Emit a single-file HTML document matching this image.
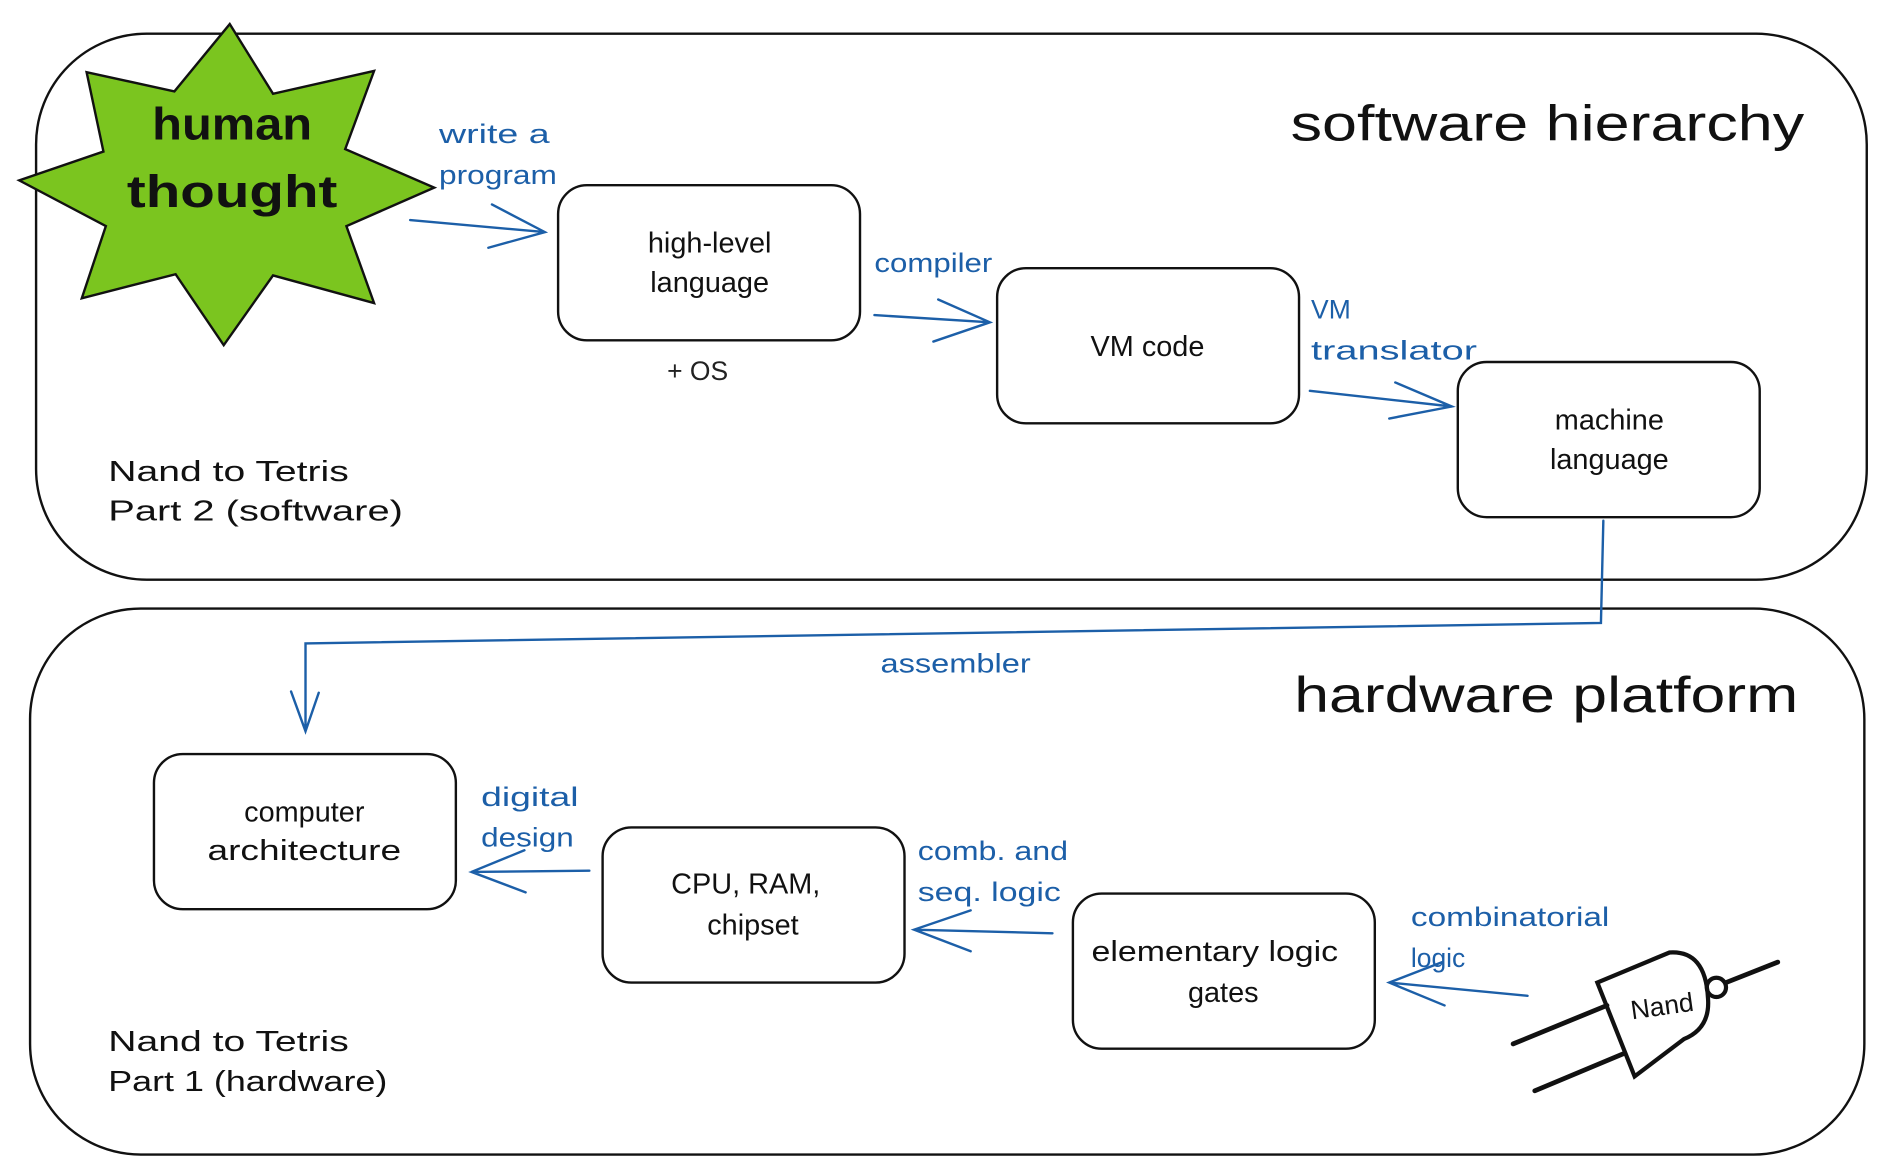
<!DOCTYPE html>
<html><head><meta charset="utf-8"><style>
html,body{margin:0;padding:0;background:#fff;}
svg{display:block;}
text{font-family:"Liberation Sans","DejaVu Sans",sans-serif;}
.b{fill:#1c5fa8;font-size:22px;}
.k{fill:#111;font-size:24px;text-anchor:middle;}
.bx{fill:none;stroke:#111;stroke-width:2;}
.ar{fill:none;stroke:#1c5fa8;stroke-width:2;stroke-linecap:round;}
</style></head><body>
<svg width="1886" height="1175" viewBox="0 0 1568 977" preserveAspectRatio="none" xmlns="http://www.w3.org/2000/svg">
<rect width="1568" height="977" fill="#fff"/>
<rect x="30" y="28" width="1522" height="454" rx="92" class="bx" stroke-width="2.2"/>
<rect x="25" y="506" width="1525" height="454" rx="92" class="bx" stroke-width="2.2"/>
<polygon points="191,20 227,78 311,59 287,124 361,156 288,188 311,252 227,229 186,287 146,228 68,248 88,188 16,150 86,126 72,60 145,76" fill="#7bc51f" stroke="#111" stroke-width="2"/>
<text x="193" y="116" text-anchor="middle" font-size="38" font-weight="bold" fill="#111" textLength="133" lengthAdjust="spacingAndGlyphs">human</text>
<text x="193" y="172" text-anchor="middle" font-size="38" font-weight="bold" fill="#111" textLength="175" lengthAdjust="spacingAndGlyphs">thought</text>
<text x="1073" y="117" font-size="42" fill="#111" textLength="427" lengthAdjust="spacingAndGlyphs">software hierarchy</text>
<text x="1076" y="592" font-size="42" fill="#111" textLength="419" lengthAdjust="spacingAndGlyphs">hardware platform</text>
<text x="90" y="400" font-size="24" fill="#111" textLength="200" lengthAdjust="spacingAndGlyphs">Nand to Tetris</text>
<text x="90" y="433" font-size="24" fill="#111" textLength="245" lengthAdjust="spacingAndGlyphs">Part 2 (software)</text>
<text x="90" y="874" font-size="24" fill="#111" textLength="200" lengthAdjust="spacingAndGlyphs">Nand to Tetris</text>
<text x="90" y="907" font-size="24" fill="#111" textLength="232" lengthAdjust="spacingAndGlyphs">Part 1 (hardware)</text>
<rect x="464" y="154" width="251" height="129" rx="24" class="bx"/>
<text class="k" x="590" y="210">high-level</text><text class="k" x="590" y="243">language</text>
<text x="580" y="316" text-anchor="middle" font-size="22" fill="#222">+ OS</text>
<rect x="829" y="223" width="251" height="129" rx="24" class="bx"/>
<text class="k" x="954" y="296">VM code</text>
<rect x="1212" y="301" width="251" height="129" rx="24" class="bx"/>
<text class="k" x="1338" y="357">machine</text><text class="k" x="1338" y="390">language</text>
<rect x="128" y="627" width="251" height="129" rx="24" class="bx"/>
<text class="k" x="253" y="683">computer</text><text class="k" x="253" y="715" textLength="161" lengthAdjust="spacingAndGlyphs">architecture</text>
<rect x="501" y="688" width="251" height="129" rx="24" class="bx"/>
<text class="k" x="620" y="743">CPU, RAM,</text><text class="k" x="626" y="777">chipset</text>
<rect x="892" y="743" width="251" height="129" rx="24" class="bx"/>
<text class="k" x="1010" y="799" textLength="205" lengthAdjust="spacingAndGlyphs">elementary logic</text><text class="k" x="1017" y="833">gates</text>
<text class="b" x="365" y="119" textLength="92" lengthAdjust="spacingAndGlyphs">write a</text><text class="b" x="365" y="153" textLength="98" lengthAdjust="spacingAndGlyphs">program</text>
<text class="b" x="727" y="226" textLength="98" lengthAdjust="spacingAndGlyphs">compiler</text>
<text class="b" x="1090" y="265">VM</text><text class="b" x="1090" y="299" textLength="138" lengthAdjust="spacingAndGlyphs">translator</text>
<text class="b" x="732" y="559" textLength="125" lengthAdjust="spacingAndGlyphs">assembler</text>
<text class="b" x="400" y="670" textLength="81" lengthAdjust="spacingAndGlyphs">digital</text><text class="b" x="400" y="704" textLength="77" lengthAdjust="spacingAndGlyphs">design</text>
<text class="b" x="763" y="715" textLength="125" lengthAdjust="spacingAndGlyphs">comb. and</text><text class="b" x="763" y="749" textLength="119" lengthAdjust="spacingAndGlyphs">seq. logic</text>
<text class="b" x="1173" y="770" textLength="165" lengthAdjust="spacingAndGlyphs">combinatorial</text><text class="b" x="1173" y="804">logic</text>
<path class="ar" d="M341,183 L453,193 M409,170 L453,193 L406,206"/>
<path class="ar" d="M727,262 L823,268 M780,249 L823,268 L776,284"/>
<path class="ar" d="M1089,325 L1207,338 M1160,318 L1207,338 L1155,348"/>
<path class="ar" d="M1333,433 L1331,518 L254,535 L254,608 M242,575 L254,608 L265,576"/>
<path class="ar" d="M490,724 L392,725 M436,707 L392,725 L437,742"/>
<path class="ar" d="M875,776 L760,773 M807,757 L760,773 L807,791"/>
<path class="ar" d="M1270,828 L1155,817 M1199,800 L1155,817 L1201,836"/>
<g stroke="#111" stroke-width="4" fill="none" stroke-linecap="round">
<line x1="1258" y1="868" x2="1336" y2="836"/>
<line x1="1276" y1="907" x2="1350" y2="876"/>
<path d="M1328,817 L1388,792 Q1418,790 1420,830 Q1422,855 1400,864 L1359,895 Z" stroke-width="3.5"/>
<circle cx="1427" cy="821" r="8" stroke-width="3.5"/>
<line x1="1435" y1="817" x2="1478" y2="800"/>
</g>
<text x="1382" y="844" text-anchor="middle" font-size="22" fill="#111" transform="rotate(-8 1382 838)">Nand</text>
</svg>
</body></html>
